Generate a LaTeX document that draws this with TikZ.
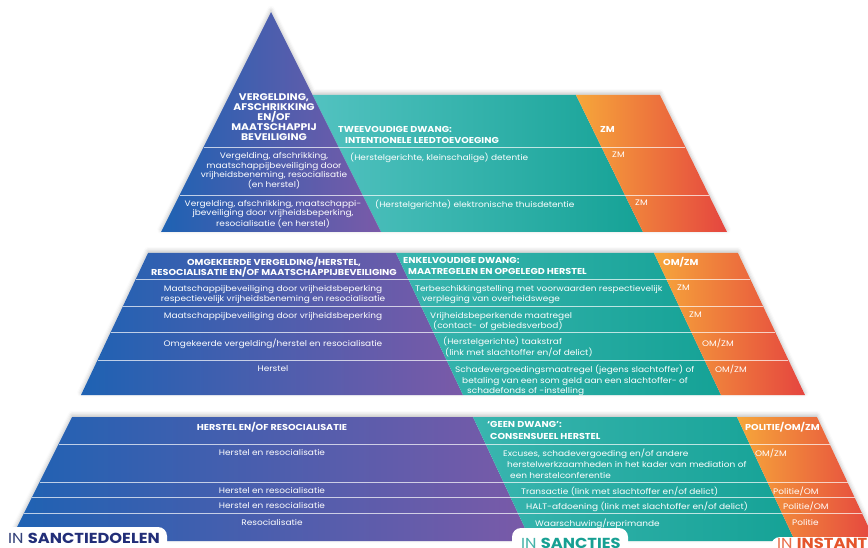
\documentclass[tikz,border=0pt]{standalone}
\usepackage{fontspec}
\setmainfont{Poppins}[FakeStretch=1.12]
\usetikzlibrary{shadows.blur}
\definecolor{pblue}{HTML}{1E62B3}
\definecolor{ppurple}{HTML}{7A5AA8}
\definecolor{lteal}{HTML}{52C2C0}
\definecolor{pteal}{HTML}{15A296}
\definecolor{porange}{HTML}{F6A73A}
\definecolor{pred}{HTML}{E5453F}
\definecolor{navy}{HTML}{222E78}
\definecolor{navyl}{HTML}{34427A}
\definecolor{tealtxt}{HTML}{17A093}
\definecolor{orgtxt}{HTML}{E5562C}
\begin{document}
\begin{tikzpicture}[x=1pt,y=-1pt,
  body/.style={text=white,font=\fontsize{8}{10}\selectfont,inner sep=0pt},
  head/.style={text=white,font=\fontsize{8.6}{10}\selectfont\bfseries,inner sep=0pt},
  ctr/.style={anchor=north,align=center},
  lft/.style={anchor=north west,align=left},
  divider/.style={white,opacity=0.7,line width=0.7pt},
  tiershadow/.style={fill=white,blur shadow={shadow xshift=0pt,shadow yshift=2pt,shadow blur radius=4pt,shadow opacity=25}},
  labelbox/.style={fill=white,rounded corners=9pt},
  labeltxt/.style={anchor=base west,inner sep=0pt,font=\fontsize{14.5}{15}\selectfont}]
\useasboundingbox (0,0) rectangle (868,548);

% ---------- top tier ----------
\path[tiershadow] (271,12) -- (312.5,95) -- (660,95) -- (727,232) -- (161,232) -- cycle;
\shade[left color=lteal,right color=pteal] (312.5,95) -- (576,95) -- (643,232) -- (381,232) -- cycle;
\shade[left color=porange,right color=pred] (576,95) -- (660,95) -- (727,232) -- (643,232) -- cycle;
\shade[left color=pblue,right color=ppurple] (271,12) -- (381,232) -- (161,232) -- cycle;
\draw[divider] (203.5,147) -- (685.4,147);
\draw[divider] (179.5,195) -- (708.9,195);

\node[head,ctr,font=\fontsize{9.6}{9.9}\selectfont\bfseries] (t1) at (274,93.5) {VERGELDING,\\AFSCHRIKKING\\EN/OF\\MAATSCHAPPIJ\\BEVEILIGING};
\node[body,ctr,font=\fontsize{8}{9.7}\selectfont] (t2) at (274,152) {Vergelding, afschrikking,\\maatschappijbeveiliging door\\vrijheidsbeneming, resocialisatie\\(en herstel)};
\node[body,ctr,font=\fontsize{8}{9.6}\selectfont] (t3) at (273,200) {Vergelding, afschrikking, maatschappi-\\jbeveiliging door vrijheidsbeperking,\\resocialisatie (en herstel)};
\node[head,lft,font=\fontsize{8.6}{11}\selectfont\bfseries] (t4) at (338,126) {TWEEVOUDIGE DWANG:\\\hspace*{7pt}INTENTIONELE LEEDTOEVOEGING};
\node[body,lft] (t5) at (350,153) {(Herstelgerichte, kleinschalige) detentie};
\node[body,lft] (t6) at (375,200) {(Herstelgerichte) elektronische thuisdetentie};
\node[head,lft] (t7) at (600,126) {ZM};
\node[body,lft] (t8) at (612,152) {ZM};
\node[body,lft] (t9) at (635,200) {ZM};

% ---------- middle tier ----------
\path[tiershadow] (148,253) -- (738,253) -- (805,395) -- (81,395) -- cycle;
\shade[left color=pblue,right color=ppurple] (148,253) -- (396,253) -- (463,395) -- (81,395) -- cycle;
\shade[left color=lteal!60!pteal,right color=pteal] (396,253) -- (654,253) -- (721,395) -- (463,395) -- cycle;
\shade[left color=porange,right color=pred] (654,253) -- (738,253) -- (805,395) -- (721,395) -- cycle;
\foreach \yy in {279,306,332,360}
  \draw[divider] ({148-0.47*(\yy-253)},\yy) -- ({738+0.47*(\yy-253)},\yy);

\node[head,ctr] (m1) at (274,257) {OMGEKEERDE VERGELDING/HERSTEL,\\RESOCIALISATIE EN/OF MAATSCHAPPIJBEVEILIGING};
\node[body,ctr] (m2) at (273,285) {Maatschappijbeveiliging door vrijheidsbeperking\\respectievelijk vrijheidsbeneming en resocialisatie};
\node[body,ctr] (m3) at (273,312) {Maatschappijbeveiliging door vrijheidsbeperking};
\node[body,ctr] (m4) at (273,339) {Omgekeerde vergelding/herstel en resocialisatie};
\node[body,ctr] (m5) at (273,365) {Herstel};
\node[head,lft,font=\fontsize{8.6}{11}\selectfont\bfseries] (m6) at (403,257) {ENKELVOUDIGE DWANG:\\\hspace*{5pt}MAATREGELEN EN OPGELEGD HERSTEL};
\node[body,lft] (m7) at (415,285) {Terbeschikkingstelling met voorwaarden respectievelijk\\\hspace*{7pt}verpleging van overheidswege};
\node[body,lft] (m8) at (430,312) {Vrijheidsbeperkende maatregel\\\hspace*{3pt}(contact- of gebiedsverbod)};
\node[body,lft,font=\fontsize{8}{11}\selectfont] (m9) at (443,337) {(Herstelgerichte) taakstraf\\\hspace*{2pt}(link met slachtoffer en/of delict)};
\node[body,lft,font=\fontsize{8}{10.5}\selectfont] (m10) at (455,365) {Schadevergoedingsmaatregel (jegens slachtoffer) of\\\hspace*{7pt}betaling van een som geld aan een slachtoffer- of\\\hspace*{12pt}schadefonds of -instelling};
\node[head,lft] (m11) at (663,257) {OM/ZM};
\node[body,lft] (m12) at (677,285) {ZM};
\node[body,lft] (m13) at (689,312) {ZM};
\node[body,lft] (m14) at (702,339) {OM/ZM};
\node[body,lft] (m15) at (715,365) {OM/ZM};

% ---------- bottom tier ----------
\path[tiershadow] (72,417) -- (817,417) -- (875,541) -- (10,541) -- cycle;
\shade[left color=pblue,right color=ppurple] (72,417) -- (473,417) -- (531,541) -- (10,541) -- cycle;
\shade[left color=lteal!60!pteal,right color=pteal] (473,417) -- (737,417) -- (795,541) -- (531,541) -- cycle;
\shade[left color=porange,right color=pred] (737,417) -- (817,417) -- (875,541) -- (795,541) -- cycle;
\foreach \yy in {444,482,497,513}
  \draw[divider] ({72-0.5*(\yy-417)},\yy) -- ({817+0.47*(\yy-417)},\yy);

\node[head,ctr] (b1) at (272,422) {HERSTEL EN/OF RESOCIALISATIE};
\node[body,ctr] (b2) at (272,449) {Herstel en resocialisatie};
\node[body,ctr] (b3) at (272,487) {Herstel en resocialisatie};
\node[body,ctr] (b4) at (272,502) {Herstel en resocialisatie};
\node[body,ctr] (b5) at (272,519) {Resocialisatie};
\node[head,lft,font=\fontsize{8.6}{12.5}\selectfont\bfseries] (b6) at (487,421) {‘GEEN DWANG’:\\\hspace*{3pt}CONSENSUEEL HERSTEL};
\node[body,lft,font=\fontsize{8}{11}\selectfont] (b7) at (503,449) {Excuses, schadevergoeding en/of andere\\\hspace*{4pt}herstelwerkzaamheden in het kader van mediation of\\\hspace*{7pt}een herstelconferentie};
\node[body,lft] (b8) at (521,487) {Transactie (link met slachtoffer en/of delict)};
\node[body,lft] (b9) at (526,502) {HALT-afdoening (link met slachtoffer en/of delict)};
\node[body,lft] (b10) at (535,519) {Waarschuwing/reprimande};
\node[head,lft] (b11) at (745,422) {POLITIE/OM/ZM};
\node[body,lft] (b12) at (755,449) {OM/ZM};
\node[body,lft] (b13) at (773,487) {Politie/OM};
\node[body,lft] (b14) at (783,502) {Politie/OM};
\node[body,lft] (b15) at (792,519) {Politie};

% ---------- labels ----------
\fill[labelbox] (-10,527) rectangle (167,570);
\node[labeltxt] (l1) at (8,543) {\textcolor{navyl}{IN} \textcolor{navy}{\bfseries SANCTIEDOELEN}};
\fill[labelbox] (512,528) rectangle (628,570);
\node[labeltxt] (l2) at (521,548.5) {\textcolor{tealtxt!80}{IN} \textcolor{tealtxt}{\bfseries SANCTIES}};
\fill[labelbox] (771,537) rectangle (900,570);
\node[labeltxt] (l3) at (777,548.5) {\textcolor{orgtxt!85}{IN} \textcolor{orgtxt}{\bfseries INSTANTIES}};
\end{tikzpicture}
\end{document}
